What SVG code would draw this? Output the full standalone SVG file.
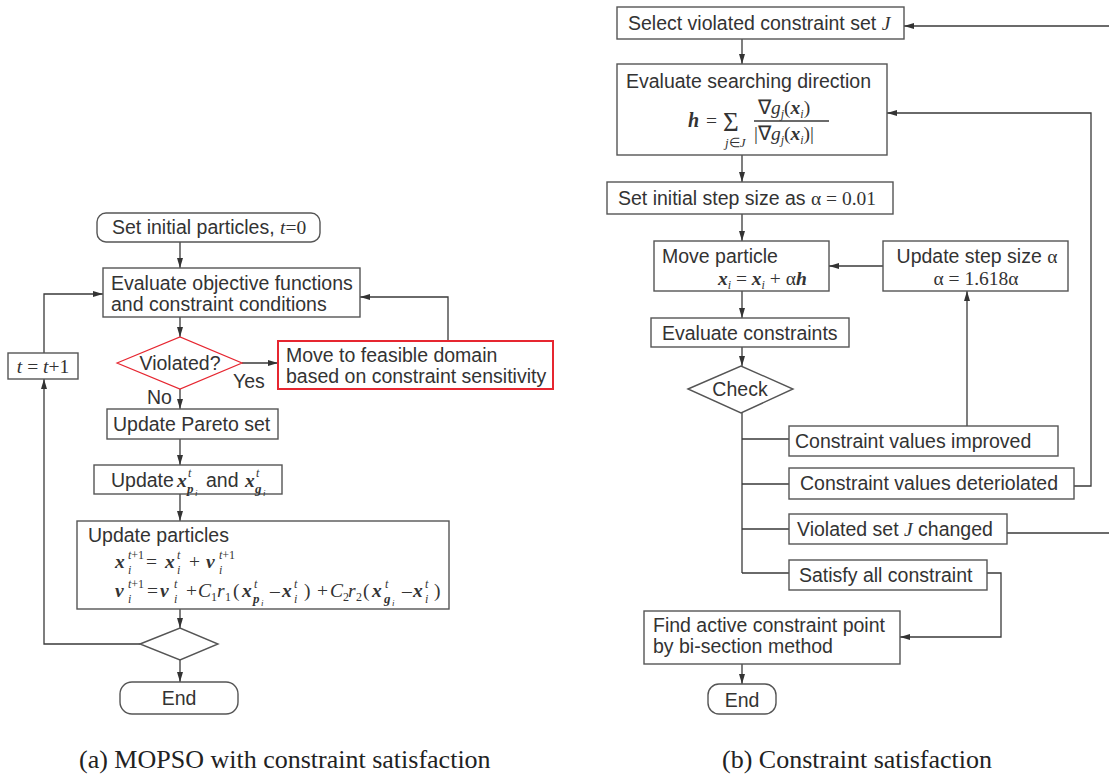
<svg xmlns="http://www.w3.org/2000/svg" width="1109" height="776" viewBox="0 0 1109 776">
<defs>
<style>
.box{fill:#fff;stroke:#555;stroke-width:1.4}
.red{fill:#fff;stroke:#e62630;stroke-width:2}
.redd{fill:#fff;stroke:#e62630;stroke-width:1.2}
.ln{fill:none;stroke:#3a3a3a;stroke-width:1.3}
.t{font-family:"Liberation Sans",Arial,sans-serif;font-size:19.5px;fill:#333}
.m{font-family:"Liberation Serif","Times New Roman",serif;font-size:19.5px;fill:#333}
.mb{font-family:"Liberation Serif","Times New Roman",serif;font-size:19.5px;fill:#333;font-weight:bold;font-style:italic}
.mi{font-family:"Liberation Serif","Times New Roman",serif;font-size:19.5px;fill:#333;font-style:italic}
.ms{font-family:"Liberation Serif","Times New Roman",serif;font-size:12px;fill:#333}
.msi{font-family:"Liberation Serif","Times New Roman",serif;font-size:12px;fill:#333;font-style:italic}
.mt{font-family:"Liberation Serif","Times New Roman",serif;font-size:9px;fill:#333;font-style:italic}
.msb{font-family:"Liberation Serif","Times New Roman",serif;font-size:13px;fill:#333;font-weight:bold;font-style:italic}
.cap{font-family:"Liberation Serif","Times New Roman",serif;font-size:26px;fill:#222}
.c{text-anchor:middle}
</style>
<marker id="ah" viewBox="0 0 10 6" refX="10" refY="3" markerWidth="10" markerHeight="6" markerUnits="userSpaceOnUse" orient="auto"><path d="M0,0 L10,3 L0,6 z" fill="#333"/></marker>
</defs>
<rect width="1109" height="776" fill="#fff"/>

<!-- connectors -->
<g id="connectors" class="ln" marker-end="url(#ah)">
<path d="M180,242 V268"/>
<path d="M180,317 V337"/>
<path d="M242,363 H278"/>
<path d="M448,341 V297 H360"/>
<path d="M180,389 V409"/>
<path d="M180,439 V465"/>
<path d="M180,494 V521"/>
<path d="M180,609 V628"/>
<path d="M180,660 V682"/>
<path d="M140,644 H44 V379"/>
<path d="M44,353 V294 H103"/>

<path d="M742,39 V64"/>
<path d="M1109,26 H904"/>
<path d="M742,155 V182"/>
<path d="M742,214 V241"/>
<path d="M883,266 H829"/>
<path d="M742,291 V318"/>
<path d="M742,347 V366"/>
<path d="M967,426 V291"/>
<path d="M1074,486 H1091 V113 H887"/>
<path d="M987,573 H1001 V637 H900"/>
<path d="M742,664 V684"/>
</g>
<g id="connectors-plain" class="ln">
<path d="M742,413 V573"/>
<path d="M742,439 H789 M742,484 H789 M742,529 H789 M742,573 H789"/>
<path d="M1007,533 H1109"/>
</g>

<!-- left diagram -->
<g id="a-start">
<rect class="box" x="97" y="213" width="223" height="29" rx="9"/>
<text class="t" x="112" y="234">Set initial particles, <tspan class="mi">t</tspan><tspan class="m">=0</tspan></text>
</g>
<g id="a-eval">
<rect class="box" x="103" y="268" width="257" height="49"/>
<text class="t" x="111" y="290">Evaluate objective functions</text>
<text class="t" x="111" y="311">and constraint conditions</text>
</g>
<g id="a-violated">
<polygon class="redd" points="117,363 180,337 242,363 180,389"/>
<text class="t c" x="180" y="370">Violated?</text>
</g>
<g id="a-move">
<rect class="red" x="278" y="341" width="275" height="48"/>
<text class="t" x="286" y="362">Move to feasible domain</text>
<text class="t" x="286" y="383">based on constraint sensitivity</text>
</g>
<g id="a-labels">
<text class="t" x="233" y="388">Yes</text>
<text class="t" x="147" y="404">No</text>
</g>
<g id="a-tinc">
<rect class="box" x="8" y="353" width="70" height="26"/>
<text class="m c" x="43" y="373"><tspan font-style="italic">t</tspan> = <tspan font-style="italic">t</tspan>+1</text>
</g>
<g id="a-pareto">
<rect class="box" x="107" y="409" width="171" height="30"/>
<text class="t" x="113" y="431">Update Pareto set</text>
</g>
<g id="a-updx">
<rect class="box" x="94" y="465" width="188" height="29"/>
<text class="t" x="111" y="487">Update</text>
<text class="mb" x="177" y="487">x</text>
<text class="msi" x="188" y="477">t</text>
<text class="msb" x="187" y="493">p</text>
<text class="mt" x="195" y="496">i</text>
<text class="t" x="206" y="487">and</text>
<text class="mb" x="245" y="487">x</text>
<text class="msi" x="256" y="477">t</text>
<text class="msb" x="255" y="493">g</text>
<text class="mt" x="263" y="496">i</text>
</g>
<g id="a-particles">
<rect class="box" x="77" y="521" width="372" height="88"/>
<text class="t" x="88" y="542">Update particles</text>
<text class="mb" x="115" y="568">x</text>
<text class="ms" x="128" y="559"><tspan font-style="italic">t</tspan>+1</text>
<text class="msi" x="128" y="574">i</text>
<text class="m" x="146" y="568">=</text>
<text class="mb" x="165" y="568">x</text>
<text class="msi" x="177" y="559">t</text>
<text class="msi" x="177" y="574">i</text>
<text class="m" x="189" y="568">+</text>
<text class="mb" x="206" y="568">v</text>
<text class="ms" x="219" y="559"><tspan font-style="italic">t</tspan>+1</text>
<text class="msi" x="219" y="574">i</text>

<text class="mb" x="115" y="597">v</text>
<text class="ms" x="128" y="588"><tspan font-style="italic">t</tspan>+1</text>
<text class="msi" x="128" y="603">i</text>
<text class="m" x="147" y="597">=</text>
<text class="mb" x="160" y="597">v</text>
<text class="msi" x="174" y="588">t</text>
<text class="msi" x="174" y="603">i</text>
<text class="m" x="186" y="597">+</text>
<text class="mi" x="198" y="597">C</text>
<text class="ms" x="211" y="601">1</text>
<text class="mi" x="217" y="597">r</text>
<text class="ms" x="225" y="601">1</text>
<text class="m" x="233" y="597">(</text>
<text class="mb" x="242" y="597">x</text>
<text class="msi" x="254" y="588">t</text>
<text class="msb" x="253" y="603">p</text>
<text class="mt" x="261" y="606">i</text>
<text class="m" x="270" y="597">–</text>
<text class="mb" x="282" y="597">x</text>
<text class="msi" x="294" y="588">t</text>
<text class="msi" x="294" y="603">i</text>
<text class="m" x="304" y="597">)</text>
<text class="m" x="317" y="597">+</text>
<text class="mi" x="330" y="597">C</text>
<text class="ms" x="343" y="601">2</text>
<text class="mi" x="348" y="597">r</text>
<text class="ms" x="356" y="601">2</text>
<text class="m" x="363" y="597">(</text>
<text class="mb" x="372" y="597">x</text>
<text class="msi" x="385" y="588">t</text>
<text class="msb" x="384" y="603">g</text>
<text class="mt" x="392" y="606">i</text>
<text class="m" x="402" y="597">–</text>
<text class="mb" x="413" y="597">x</text>
<text class="msi" x="425" y="588">t</text>
<text class="msi" x="425" y="603">i</text>
<text class="m" x="434" y="597">)</text>
</g>
<g id="a-decision">
<polygon class="box" points="140,644 180,628 218,644 180,660"/>
</g>
<g id="a-end">
<rect class="box" x="120" y="682" width="118" height="32" rx="12"/>
<text class="t c" x="179" y="705">End</text>
</g>

<!-- right diagram -->
<g id="b-select">
<rect class="box" x="617" y="7" width="287" height="32"/>
<text class="t" x="628" y="30">Select violated constraint set <tspan class="mi">J</tspan></text>
</g>
<g id="b-direction">
<rect class="box" x="617" y="64" width="270" height="91"/>
<text class="t" x="626" y="88">Evaluate searching direction</text>
<text class="mb" x="688" y="127" style="font-size:20px">h</text>
<text class="m" x="706" y="127">=</text>
<text class="m" x="723" y="131" style="font-size:27px">Σ</text>
<text class="ms" x="725" y="147" style="font-size:13px"><tspan font-style="italic">j</tspan>∈<tspan font-style="italic">J</tspan></text>
<text class="m" x="758" y="114">∇<tspan font-style="italic">g</tspan><tspan font-size="12" dy="4" font-style="italic">j</tspan><tspan dy="-4">(</tspan><tspan font-weight="bold" font-style="italic">x</tspan><tspan font-size="12" dy="4" font-style="italic">i</tspan><tspan dy="-4">)</tspan></text>
<line class="ln" x1="754" y1="121" x2="829" y2="121"/>
<text class="m" x="754" y="140">|∇<tspan font-style="italic">g</tspan><tspan font-size="12" dy="4" font-style="italic">j</tspan><tspan dy="-4">(</tspan><tspan font-weight="bold" font-style="italic">x</tspan><tspan font-size="12" dy="4" font-style="italic">i</tspan><tspan dy="-4">)|</tspan></text>
</g>
<g id="b-initstep">
<rect class="box" x="607" y="182" width="286" height="32"/>
<text class="t" x="618" y="205">Set initial step size as <tspan class="m">α = 0.01</tspan></text>
</g>
<g id="b-move">
<rect class="box" x="654" y="241" width="175" height="50"/>
<text class="t" x="662" y="263">Move particle</text>
<text class="m" x="718" y="285"><tspan font-weight="bold" font-style="italic">x</tspan><tspan font-size="12" dy="4" font-style="italic">i</tspan><tspan dy="-4"> = </tspan><tspan font-weight="bold" font-style="italic">x</tspan><tspan font-size="12" dy="4" font-style="italic">i</tspan><tspan dy="-4"> + α</tspan><tspan font-weight="bold" font-style="italic">h</tspan></text>
</g>
<g id="b-update">
<rect class="box" x="883" y="241" width="185" height="50"/>
<text class="t c" x="977" y="263">Update step size <tspan class="m">α</tspan></text>
<text class="m c" x="976" y="285">α = 1.618α</text>
</g>
<g id="b-evalc">
<rect class="box" x="651" y="318" width="198" height="29"/>
<text class="t" x="662" y="340">Evaluate constraints</text>
</g>
<g id="b-check">
<polygon class="box" points="688,389 741,366 793,389 741,413"/>
<text class="t c" x="740" y="396">Check</text>
</g>
<g id="b-improved">
<rect class="box" x="789" y="426" width="269" height="30"/>
<text class="t" x="795" y="448">Constraint values improved</text>
</g>
<g id="b-deter">
<rect class="box" x="789" y="468" width="285" height="31"/>
<text class="t" x="800" y="490">Constraint values deteriolated</text>
</g>
<g id="b-changed">
<rect class="box" x="789" y="514" width="218" height="30"/>
<text class="t" x="797" y="536">Violated set <tspan class="mi">J</tspan> changed</text>
</g>
<g id="b-satisfy">
<rect class="box" x="789" y="560" width="198" height="30"/>
<text class="t" x="799" y="582">Satisfy all constraint</text>
</g>
<g id="b-find">
<rect class="box" x="644" y="611" width="256" height="53"/>
<text class="t" x="653" y="632">Find active constraint point</text>
<text class="t" x="653" y="653">by bi-section method</text>
</g>
<g id="b-end">
<rect class="box" x="708" y="684" width="68" height="30" rx="11"/>
<text class="t c" x="742" y="707">End</text>
</g>

<g id="captions">
<text class="cap" x="79" y="768">(a) MOPSO with constraint satisfaction</text>
<text class="cap" x="722" y="768">(b) Constraint satisfaction</text>
</g>
</svg>
